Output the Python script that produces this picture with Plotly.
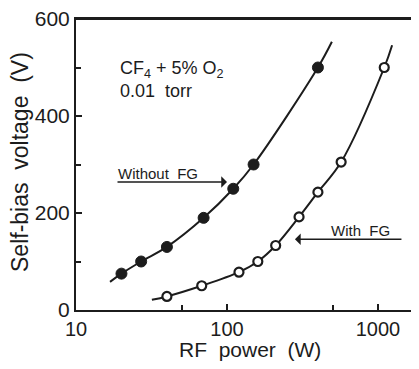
import plotly.graph_objects as go

# Data
power_without = [20, 27, 40, 70, 110, 150, 400]
bias_without = [75, 100, 130, 190, 250, 300, 500]
curve_without_x = [16.8, 20, 27, 40, 70, 110, 150, 400, 495]
curve_without_y = [58, 75, 100, 130, 190, 250, 300, 500, 553]

power_with = [40, 68, 120, 160, 210, 300, 400, 570, 1100]
bias_with = [28, 50, 78, 100, 133, 192, 243, 305, 500]
curve_with_x = [31.8, 40, 68, 120, 160, 210, 300, 400, 570, 1100, 1240]
curve_with_y = [21, 28, 50, 78, 100, 133, 192, 243, 305, 500, 546]

x_ticks = [10, 100, 1000]
x_minor = [50, 500]
y_ticks = [0, 200, 400, 600]
y_minor = [100, 300, 500]

ink = "#1c1c1c"
font = "Liberation Sans"

# page has an 8px body margin; figure 403x353 sits at window (8, 8)
# plot area in window pixels: x 76..411, y 19..310
PW, PH = 335.0, 291.0


def px(X):
    return (X - 76) / PW


def py(Y):
    return (310 - Y) / PH


fig = go.Figure()
fig.add_trace(go.Scatter(x=curve_without_x, y=curve_without_y, mode="lines",
                         line=dict(color=ink, width=2, shape="spline", smoothing=1.0),
                         hoverinfo="skip", showlegend=False))
fig.add_trace(go.Scatter(x=curve_with_x, y=curve_with_y, mode="lines",
                         line=dict(color=ink, width=2, shape="spline", smoothing=1.0),
                         hoverinfo="skip", showlegend=False))
fig.add_trace(go.Scatter(x=power_without, y=bias_without, mode="markers",
                         marker=dict(symbol="circle", size=11, color=ink,
                                     line=dict(color=ink, width=1)),
                         name="Without FG", showlegend=False))
fig.add_trace(go.Scatter(x=power_with, y=bias_with, mode="markers",
                         marker=dict(symbol="circle", size=9, color="white",
                                     line=dict(color=ink, width=2.2)),
                         name="With FG", showlegend=False))

fig.update_layout(
    width=403, height=353,
    margin=dict(l=68, r=0, t=11, b=51, autoexpand=False),
    paper_bgcolor="white", plot_bgcolor="white",
    font=dict(family=font, color=ink),
    xaxis=dict(
        type="log", range=[1, 1 + PW / 151], automargin=False,
        tickmode="array", tickvals=x_ticks, ticktext=[str(v) for v in x_ticks],
        ticks="inside", ticklen=6, tickwidth=1.5, tickcolor=ink,
        minor=dict(tickmode="array", tickvals=x_minor, ticks="inside",
                   ticklen=5, tickwidth=1.5, tickcolor=ink),
        showline=True, linecolor=ink, linewidth=2, mirror=True,
        showgrid=False, zeroline=False,
        tickfont=dict(size=20, family=font, color=ink),
        ticklabelstandoff=0, ticklabeloverflow="allow",
    ),
    yaxis=dict(
        range=[0, 600], automargin=False,
        tickmode="array", tickvals=y_ticks, ticktext=[str(v) for v in y_ticks],
        ticks="inside", ticklen=6, tickwidth=1.5, tickcolor=ink,
        minor=dict(tickmode="array", tickvals=y_minor, ticks="inside",
                   ticklen=5, tickwidth=1.5, tickcolor=ink),
        showline=True, linecolor=ink, linewidth=2, mirror=False,
        showgrid=False, zeroline=False,
        tickfont=dict(size=21, family=font, color=ink),
        ticklabelstandoff=0, ticklabeloverflow="allow",
    ),
)

# top frame line
fig.add_shape(type="line", xref="paper", yref="paper", x0=0, x1=1, y0=1, y1=1,
              line=dict(color=ink, width=2), layer="above")

# Axis titles
fig.add_annotation(x=px(250), y=py(349), xref="paper", yref="paper",
                   xanchor="center", yanchor="middle", text="RF  power  (W)", showarrow=False,
                   font=dict(size=21, family=font, color=ink))
fig.add_annotation(x=px(20), y=py(162), xref="paper", yref="paper",
                   xanchor="center", yanchor="middle", text="Self-bias  voltage  (V)",
                   textangle=-90, showarrow=False, font=dict(size=23, family=font, color=ink))

# Condition text
fig.add_annotation(x=px(118), y=py(79), xref="paper", yref="paper",
                   xanchor="left", yanchor="middle",
                   text="CF<sub>4</sub> + 5% O<sub>2</sub><br>0.01  torr", align="left",
                   showarrow=False, font=dict(size=18, family=font, color=ink))

# Labels and arrows
fig.add_annotation(x=px(116), y=py(173), xref="paper", yref="paper",
                   xanchor="left", yanchor="middle",
                   text="Without  FG", showarrow=False, font=dict(size=15, family=font, color=ink))
fig.add_annotation(x=2.0, y=264, xref="x", yref="y", text="", showarrow=True,
                   ax=-111, ay=0, arrowhead=1, arrowsize=1.2, arrowwidth=1.6,
                   arrowcolor=ink, standoff=0)
fig.add_annotation(x=px(329), y=py(230), xref="paper", yref="paper",
                   xanchor="left", yanchor="middle",
                   text="With  FG", showarrow=False, font=dict(size=15, family=font, color=ink))
fig.add_annotation(x=2.45, y=146, xref="x", yref="y", text="", showarrow=True,
                   ax=108, ay=0, arrowhead=1, arrowsize=1.2, arrowwidth=1.6,
                   arrowcolor=ink, standoff=0)

fig.write_html("out.html")
